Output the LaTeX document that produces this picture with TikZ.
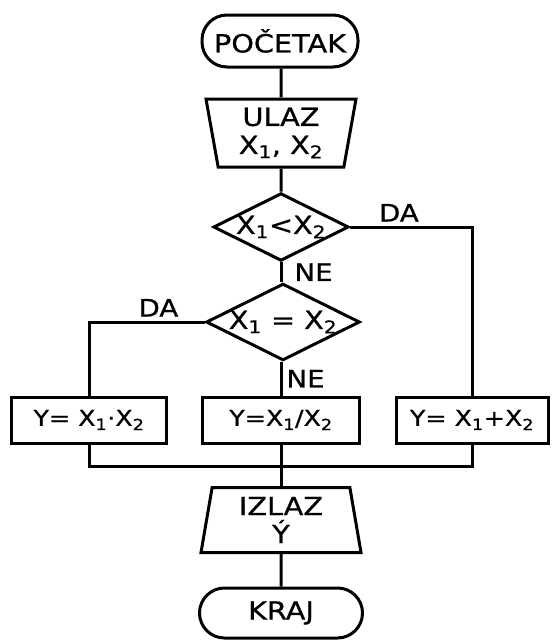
\documentclass[tikz,border=0pt]{standalone}
\usepackage{fontspec}
\setmainfont{DejaVu Sans}[FakeStretch=1.15,FakeBold=0.8]
\usetikzlibrary{shapes.geometric}

\begin{document}
\begin{tikzpicture}[x=1pt,y=-1pt,
line width=3pt,
every node/.style={font=\fontsize{25}{28}\selectfont},
term/.style={
	rectangle,rounded corners=25pt,minimum width=156pt,minimum height=52pt,
	draw=black},
io/.style={
	trapezium,trapezium stretches body,trapezium left angle=77,trapezium right angle=77,
	minimum height=68pt,draw=black,align=center,inner sep=1pt},
cond/.style={
	diamond,aspect=2,minimum width=132pt,minimum height=66pt,inner sep=0pt,
	draw=black},
proc/.style={
	rectangle,minimum width=155pt,minimum height=46pt,inner sep=2pt,
	draw=black,font=\fontsize{22}{24}\selectfont},
lab/.style={inner sep=4pt,font=\fontsize{24}{26}\selectfont}
]
\useasboundingbox (0,0) rectangle (552,641);
\node[term] (start) at (280,41) {POČETAK};
\node[io,shape border rotate=180,minimum width=150pt] (in) at (281,133) {ULAZ\\X\textsubscript{1}, X\textsubscript{2}};
\node[cond] (lt) at (281,227) {X\textsubscript{1}<X\textsubscript{2}};
\node[cond,minimum width=136pt] (eq) at (283,322) {X\textsubscript{1} = X\textsubscript{2}};
\node[proc] (mul) at (89,420) {Y= X\textsubscript{1}\textperiodcentered X\textsubscript{2}};
\node[proc,minimum width=157pt] (div) at (281,420) {Y=X\textsubscript{1}/X\textsubscript{2}};
\node[proc,minimum width=152pt] (add) at (472,420) {Y= X\textsubscript{1}+X\textsubscript{2}};
\node[io,minimum width=160pt,minimum height=65pt] (out) at (281,520) {IZLAZ\\Ý};
\node[term,minimum width=163pt,minimum height=50pt] (stop) at (281,613) {KRAJ};
\coordinate (join) at (281,466);

\draw (start.south -| in) -- (in);
\draw (in) -- (lt);
\draw (lt) -- node[right,lab,xshift=8pt]{NE} (eq.north -| lt);
\draw (lt.east) -| node[pos=0.2,above,lab]{DA} (add);
\draw (eq.west) -| node[pos=0.2,above,lab]{DA} (mul);
\draw (eq.south -| div) -- node[right,lab]{NE} (div);
\draw (mul) |- (join) -| (add);
\draw (div) -- (out);
\draw (out) -- (stop);
\end{tikzpicture}
\end{document}
